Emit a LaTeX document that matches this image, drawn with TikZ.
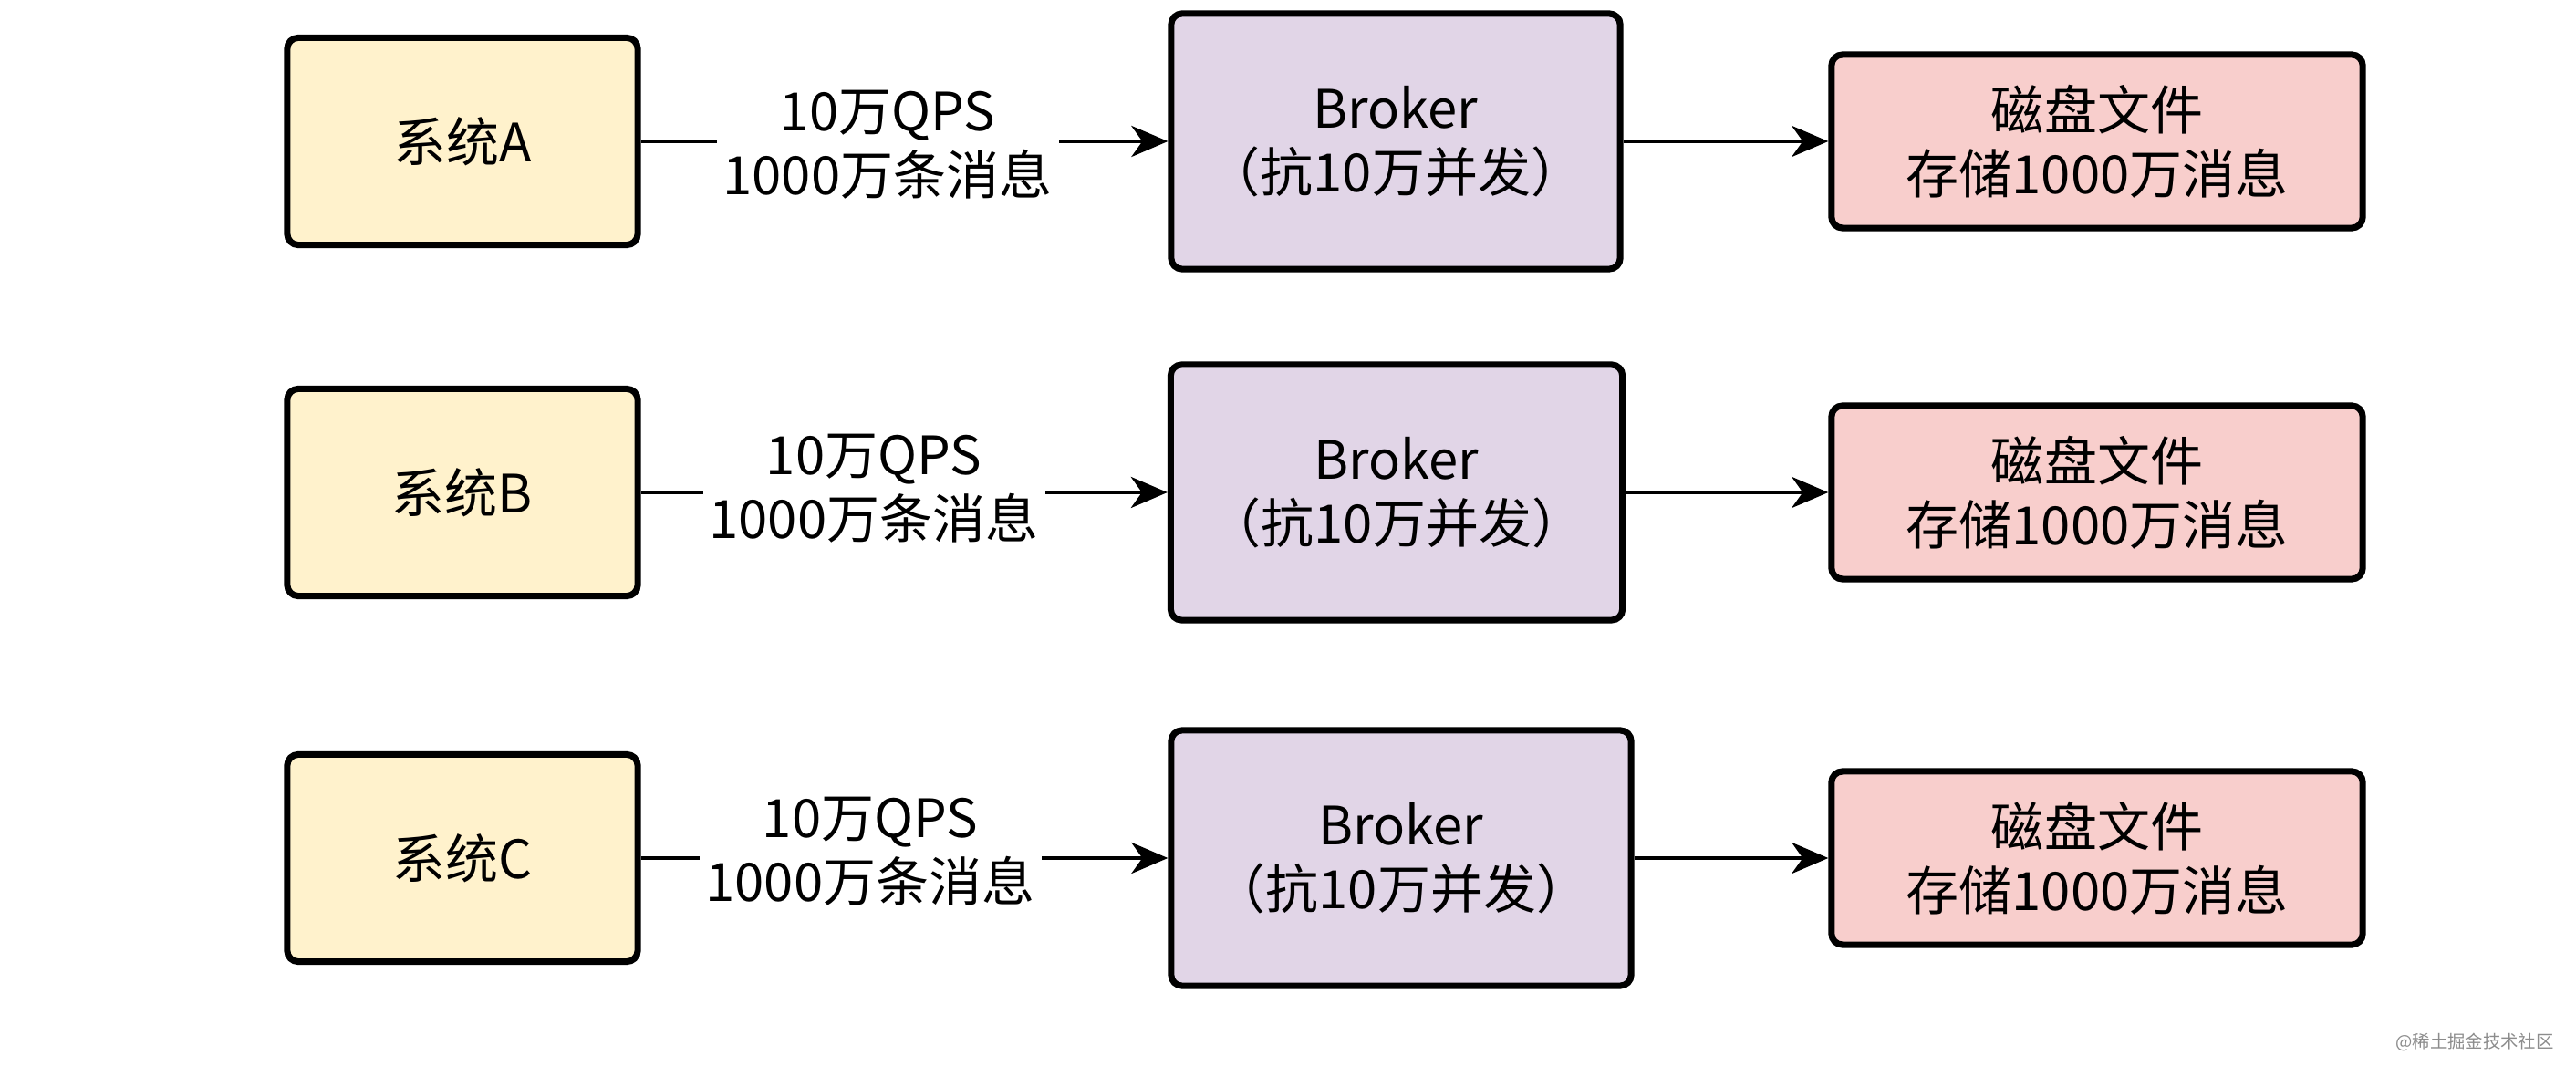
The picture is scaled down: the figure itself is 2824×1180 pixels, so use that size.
\documentclass[tikz,border=0pt]{standalone}
\usepackage{fontspec}
\setmainfont{Noto Sans CJK SC}
\usetikzlibrary{arrows.meta}
\definecolor{sysfill}{HTML}{FFF2CC}
\definecolor{brkfill}{HTML}{E1D5E7}
\definecolor{dskfill}{HTML}{F8CECC}
\tikzset{
  px/.style={x=0.01cm,y=-0.01cm},
  boxbase/.style={draw=black,line width=2pt,rounded corners=0.12cm,inner sep=0pt,align=center,font=\fontsize{16.5}{20}\selectfont},
  sysbox/.style={boxbase,fill=sysfill,minimum width=3.84cm,minimum height=2.27cm},
  brkbox/.style={boxbase,fill=brkfill,minimum height=2.8cm},
  dskbox/.style={boxbase,fill=dskfill,minimum width=5.82cm,minimum height=1.9cm},
  conn/.style={line width=1.2pt,-{Stealth[length=0.4cm,width=0.34cm,inset=0.12cm]}},
  lbl/.style={fill=white,inner sep=2pt,align=center,font=\fontsize{16.5}{20}\selectfont},
}
\begin{document}
\begin{tikzpicture}[px]
\useasboundingbox (0,0) rectangle (2824,1180);
\fill[white] (0,0) rectangle (2824,1180);
% row A
\node[sysbox] (sa) at (507,155) {系统A};
\node[brkbox,minimum width=4.92cm] (ba) at (1530,155) {Broker\\（抗10万并发）};
\node[dskbox] (da) at (2299,155) {磁盘文件\\存储1000万消息};
\draw[conn] (sa) -- (ba);
\draw[conn] (ba) -- (da);
\node[lbl] (la) at (973,159) {10万QPS\\1000万条消息};
% row B
\node[sysbox] (sb) at (507,540) {系统B};
\node[brkbox,minimum width=4.95cm] (bb) at (1531,540) {Broker\\（抗10万并发）};
\node[dskbox] (db) at (2299,540) {磁盘文件\\存储1000万消息};
\draw[conn] (sb) -- (bb);
\draw[conn] (bb) -- (db);
\node[lbl] (lb) at (958,536) {10万QPS\\1000万条消息};
% row C
\node[sysbox] (sc) at (507,941) {系统C};
\node[brkbox,minimum width=5.04cm] (bc) at (1536,941) {Broker\\（抗10万并发）};
\node[dskbox] (dc) at (2299,941) {磁盘文件\\存储1000万消息};
\draw[conn] (sc) -- (bc);
\draw[conn] (bc) -- (dc);
\node[lbl] (lc) at (954,934) {10万QPS\\1000万条消息};
% watermark
\node[text=black!45,font=\fontsize{5.5}{6}\selectfont,inner sep=0pt] (wm) at (2713,1143) {@稀土掘金技术社区};
\end{tikzpicture}
\end{document}
